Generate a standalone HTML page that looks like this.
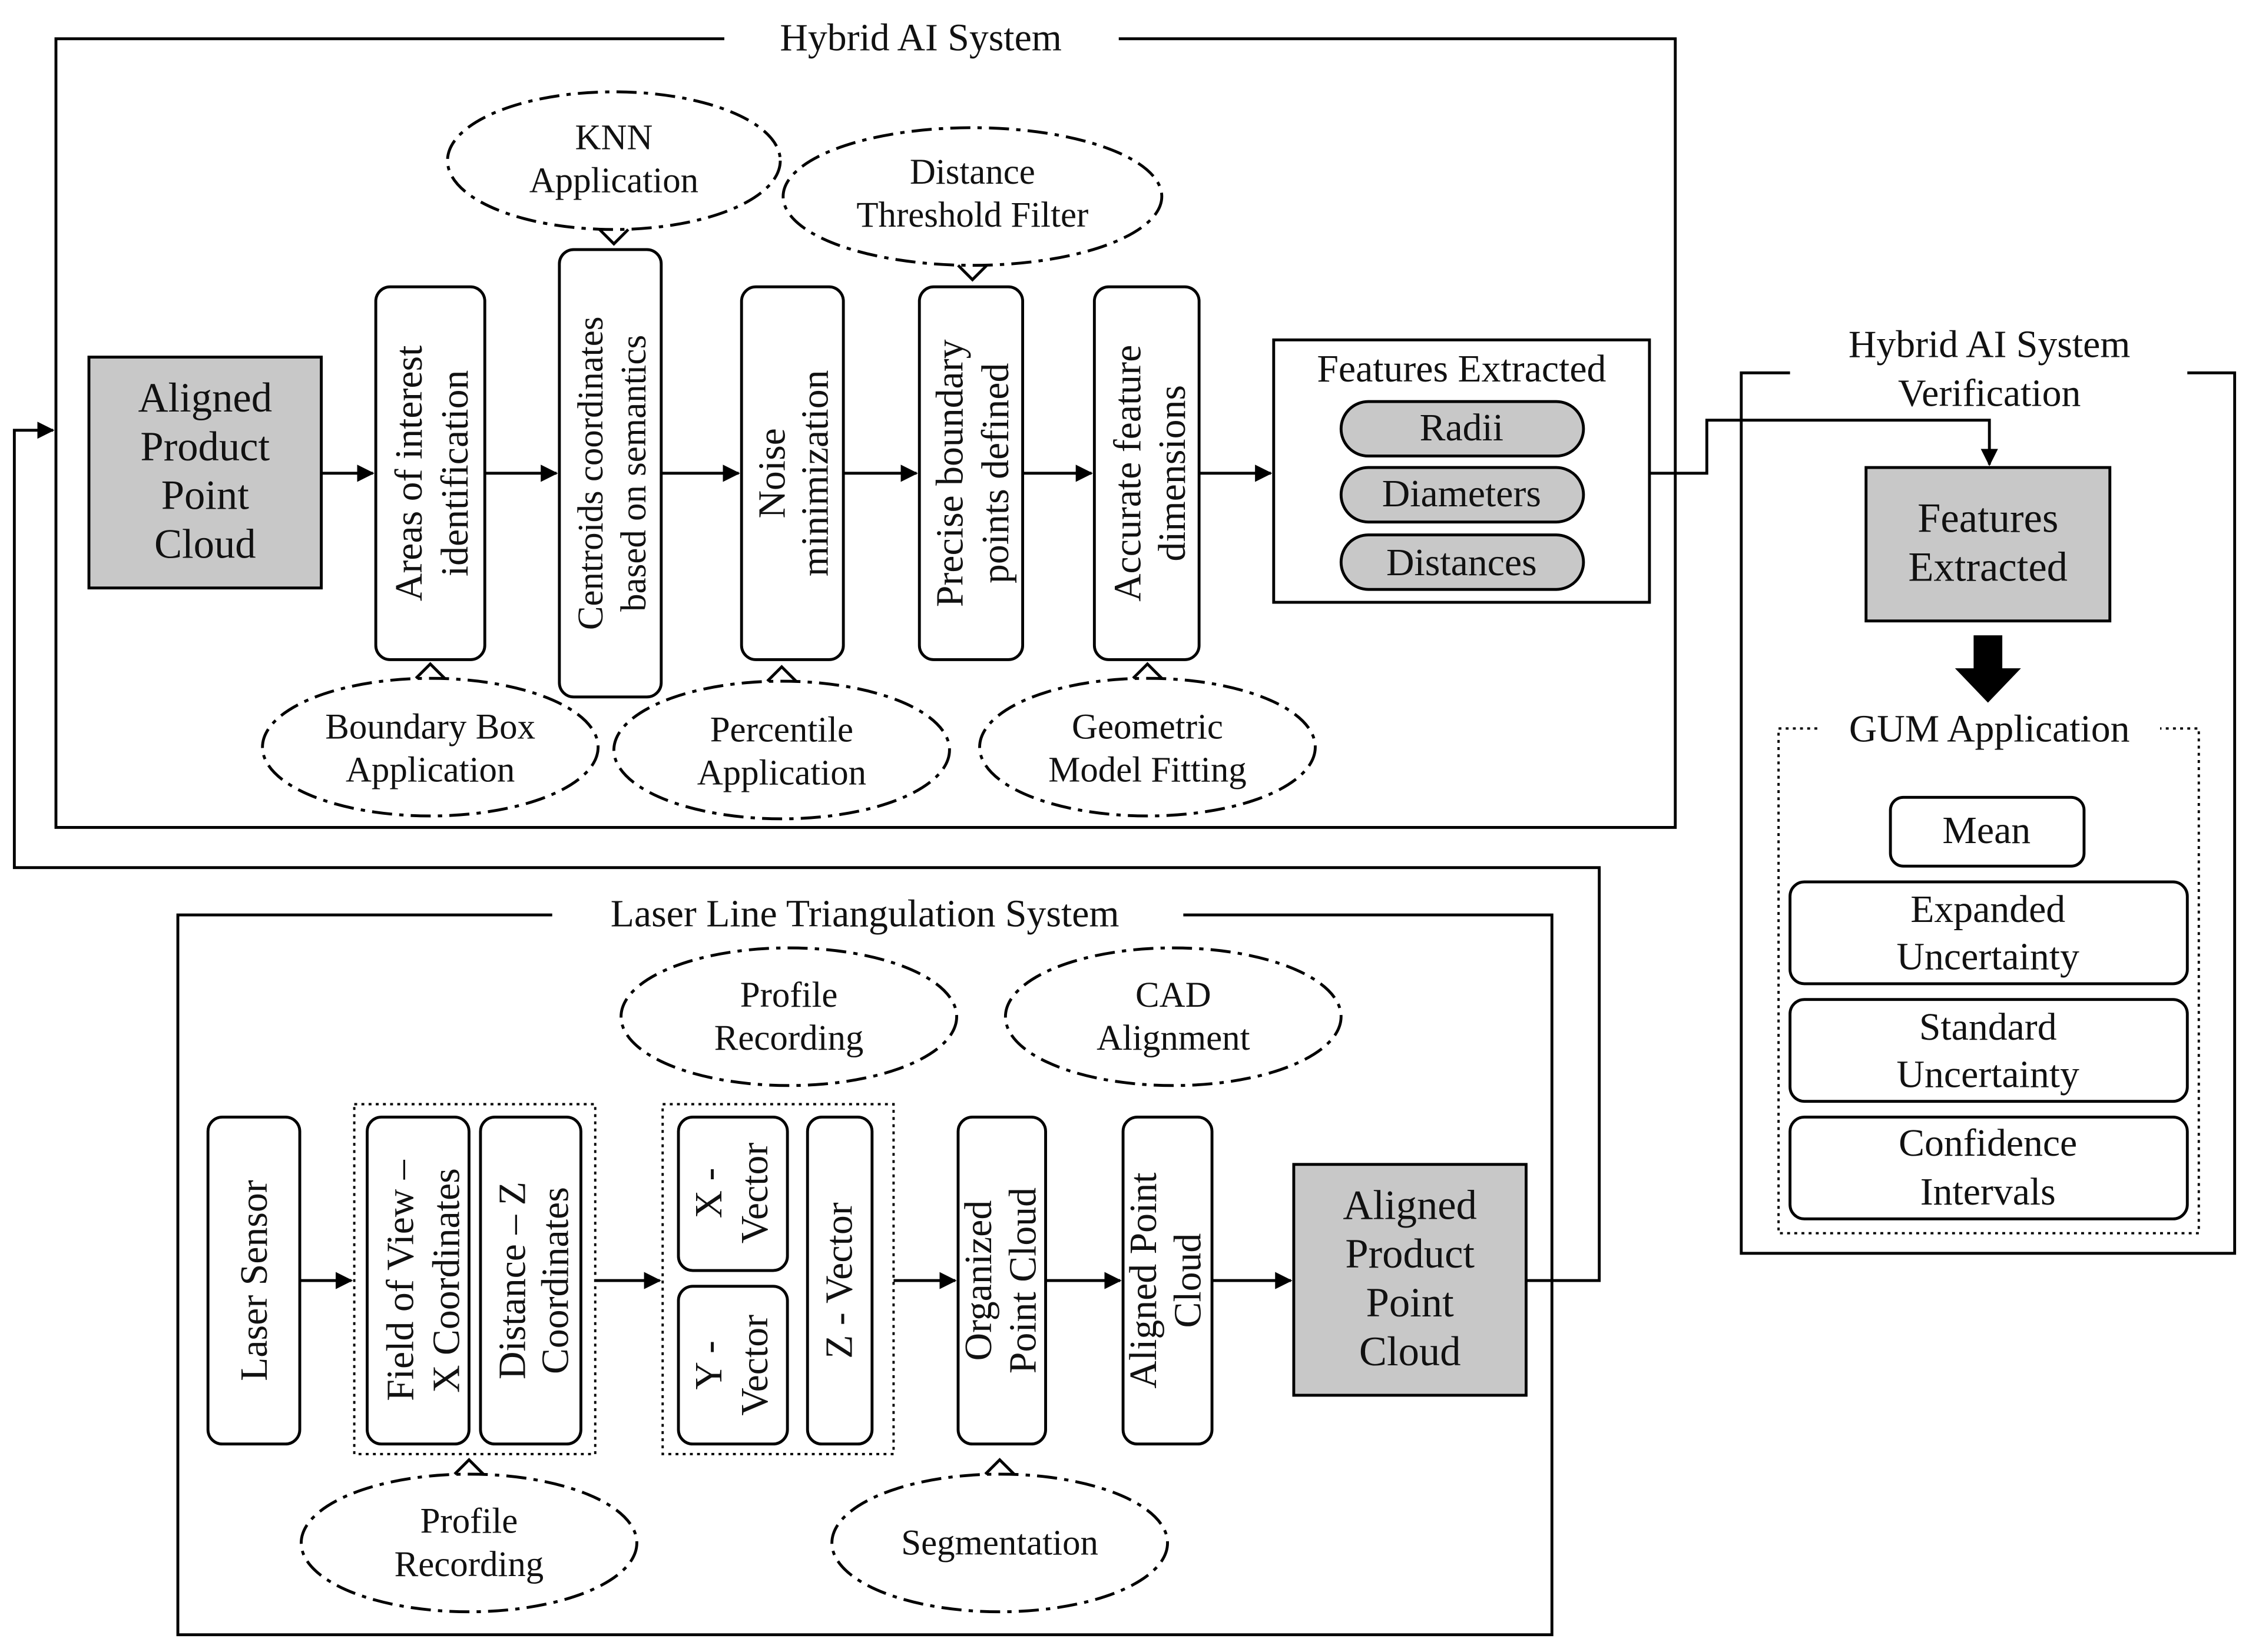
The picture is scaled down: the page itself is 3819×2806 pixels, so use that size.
<!DOCTYPE html>
<html><head><meta charset="utf-8"><style>
html,body{margin:0;padding:0;background:#fff}
svg{display:block}
text{font-family:"Liberation Serif",serif;fill:#111}
</style></head><body>
<svg width="3819" height="2806" viewBox="0 0 1568 1152" xmlns="http://www.w3.org/2000/svg">
<defs>
<marker id="ah" markerWidth="12" markerHeight="12" refX="11" refY="6" orient="auto" markerUnits="userSpaceOnUse">
<path d="M0,0 L12,6 L0,12 z" fill="#000"/></marker>
</defs>
<rect width="1568" height="1152" fill="#fff"/>
<g fill="none" stroke="#000" stroke-width="2">
<path d="M505,27 H39 V577 H1168 V27 H780"/>
<path d="M1064,893 H1115 V605 H10 V300 H37" marker-end="url(#ah)"/>
<path d="M224,330 H260" marker-end="url(#ah)"/>
<path d="M338,330 H388" marker-end="url(#ah)"/>
<path d="M461,330 H515" marker-end="url(#ah)"/>
<path d="M588,330 H639" marker-end="url(#ah)"/>
<path d="M713,330 H761" marker-end="url(#ah)"/>
<path d="M836,330 H886" marker-end="url(#ah)"/>
<path d="M1150,330 H1190 V293 H1387 V324" marker-end="url(#ah)"/>
<rect x="262" y="200" width="76" height="260" rx="10"/>
<rect x="390" y="174" width="71" height="312" rx="10"/>
<rect x="517" y="200" width="71" height="260" rx="10"/>
<rect x="641" y="200" width="72" height="260" rx="10"/>
<rect x="763" y="200" width="73" height="260" rx="10"/>
<rect x="888" y="237" width="262" height="183"/>
<rect x="935" y="280" width="169" height="38" rx="19" fill="#c8c8c8"/>
<rect x="935" y="326" width="169" height="38" rx="19" fill="#c8c8c8"/>
<rect x="935" y="373" width="169" height="38" rx="19" fill="#c8c8c8"/>
<rect x="62" y="249" width="162" height="161" fill="#c8c8c8"/>
<g stroke-dasharray="14,5,3,5">
<ellipse cx="428" cy="112" rx="116" ry="48"/>
<ellipse cx="678" cy="137" rx="132" ry="48"/>
<ellipse cx="300" cy="521" rx="117" ry="48"/>
<ellipse cx="545" cy="523" rx="117" ry="48"/>
<ellipse cx="800" cy="521" rx="117" ry="48"/>
<ellipse cx="550" cy="709" rx="117" ry="48"/>
<ellipse cx="818" cy="709" rx="117" ry="48"/>
<ellipse cx="327" cy="1076" rx="117" ry="48"/>
<ellipse cx="697" cy="1076" rx="117" ry="48"/>
</g>
<path d="M418,160 L428,170 L438,160"/>
<path d="M668,185 L678,195 L688,185"/>
<path d="M290,473 L300,463 L310,473"/>
<path d="M535,475 L545,465 L555,475"/>
<path d="M790,473 L800,463 L810,473"/>
<path d="M317,1028 L327,1018 L337,1028"/>
<path d="M687,1028 L697,1018 L707,1028"/>
<path d="M1248,260 H1214 V874 H1558 V260 H1525"/>
<rect x="1301" y="326" width="170" height="107" fill="#c8c8c8"/>
<rect x="1240" y="508" width="293" height="352" stroke-dasharray="2,3" stroke-width="1.6"/>
<rect x="1318" y="556" width="135" height="48" rx="9"/>
<rect x="1248" y="615" width="277" height="71" rx="10"/>
<rect x="1248" y="697" width="277" height="71" rx="10"/>
<rect x="1248" y="779" width="277" height="71" rx="10"/>
<path d="M385,638 H124 V1140 H1082 V638 H825"/>
<rect x="145" y="779" width="64" height="228" rx="10"/>
<rect x="247" y="770" width="168" height="244" stroke-dasharray="2,3" stroke-width="1.6"/>
<rect x="256" y="779" width="71" height="228" rx="10"/>
<rect x="335" y="779" width="70" height="228" rx="10"/>
<rect x="462" y="770" width="161" height="244" stroke-dasharray="2,3" stroke-width="1.6"/>
<rect x="473" y="779" width="76" height="107" rx="10"/>
<rect x="473" y="897" width="76" height="110" rx="10"/>
<rect x="563" y="779" width="45" height="228" rx="10"/>
<rect x="668" y="779" width="61" height="228" rx="10"/>
<rect x="783" y="779" width="62" height="228" rx="10"/>
<rect x="902" y="812" width="162" height="161" fill="#c8c8c8"/>
<path d="M209,893 H245" marker-end="url(#ah)"/>
<path d="M415,893 H460" marker-end="url(#ah)"/>
<path d="M623,893 H666" marker-end="url(#ah)"/>
<path d="M729,893 H781" marker-end="url(#ah)"/>
<path d="M845,893 H900" marker-end="url(#ah)"/>
</g>
<rect x="1268" y="494" width="238" height="30" fill="#fff"/>
<path d="M1376,443 H1396 V466 H1409 L1386,490 L1363,466 H1376 Z" fill="#000"/>
<g font-size="27" text-anchor="middle">
<text x="642" y="35">Hybrid AI System</text>
<text x="143" y="287" font-size="29">Aligned</text>
<text x="143" y="321" font-size="29">Product</text>
<text x="143" y="355" font-size="29">Point</text>
<text x="143" y="389" font-size="29">Cloud</text>
<text transform="translate(294,330) rotate(-90)">Areas of interest</text>
<text transform="translate(326,330) rotate(-90)">identification</text>
<text transform="translate(420,330) rotate(-90)" font-size="25">Centroids coordinates</text>
<text transform="translate(450,330) rotate(-90)" font-size="25">based on semantics</text>
<text transform="translate(547,330) rotate(-90)">Noise</text>
<text transform="translate(577,330) rotate(-90)">minimization</text>
<text transform="translate(671,330) rotate(-90)">Precise boundary</text>
<text transform="translate(703,330) rotate(-90)">points defined</text>
<text transform="translate(795,330) rotate(-90)">Accurate feature</text>
<text transform="translate(826,330) rotate(-90)">dimensions</text>
<text x="1019" y="266">Features Extracted</text>
<text x="1019" y="307">Radii</text>
<text x="1019" y="353">Diameters</text>
<text x="1019" y="401">Distances</text>
<text x="428" y="104" font-size="25">KNN</text>
<text x="428" y="134" font-size="25">Application</text>
<text x="678" y="128" font-size="25">Distance</text>
<text x="678" y="158" font-size="25">Threshold Filter</text>
<text x="300" y="515" font-size="25">Boundary Box</text>
<text x="300" y="545" font-size="25">Application</text>
<text x="545" y="517" font-size="25">Percentile</text>
<text x="545" y="547" font-size="25">Application</text>
<text x="800" y="515" font-size="25">Geometric</text>
<text x="800" y="545" font-size="25">Model Fitting</text>
<text x="1387" y="249">Hybrid AI System</text>
<text x="1387" y="283">Verification</text>
<text x="1386" y="371" font-size="29">Features</text>
<text x="1386" y="405" font-size="29">Extracted</text>
<text x="1387" y="517">GUM Application</text>
<text x="1385" y="588">Mean</text>
<text x="1386" y="643">Expanded</text>
<text x="1386" y="676">Uncertainty</text>
<text x="1386" y="725">Standard</text>
<text x="1386" y="758">Uncertainty</text>
<text x="1386" y="806">Confidence</text>
<text x="1386" y="840">Intervals</text>
<text x="603" y="646">Laser Line Triangulation System</text>
<text x="550" y="702" font-size="25">Profile</text>
<text x="550" y="732" font-size="25">Recording</text>
<text x="818" y="702" font-size="25">CAD</text>
<text x="818" y="732" font-size="25">Alignment</text>
<text x="327" y="1069" font-size="25">Profile</text>
<text x="327" y="1099" font-size="25">Recording</text>
<text x="697" y="1084" font-size="25">Segmentation</text>
<text transform="translate(186,893) rotate(-90)">Laser Sensor</text>
<text transform="translate(288,893) rotate(-90)">Field of View –</text>
<text transform="translate(320,893) rotate(-90)">X Coordinates</text>
<text transform="translate(366,893) rotate(-90)">Distance – Z</text>
<text transform="translate(396,893) rotate(-90)">Coordinates</text>
<text transform="translate(503,832) rotate(-90)">X -</text>
<text transform="translate(535,832) rotate(-90)">Vector</text>
<text transform="translate(503,952) rotate(-90)">Y -</text>
<text transform="translate(535,952) rotate(-90)">Vector</text>
<text transform="translate(594,893) rotate(-90)">Z - Vector</text>
<text transform="translate(691,893) rotate(-90)">Organized</text>
<text transform="translate(722,893) rotate(-90)">Point Cloud</text>
<text transform="translate(806,893) rotate(-90)">Aligned Point</text>
<text transform="translate(837,893) rotate(-90)">Cloud</text>
<text x="983" y="850" font-size="29">Aligned</text>
<text x="983" y="884" font-size="29">Product</text>
<text x="983" y="918" font-size="29">Point</text>
<text x="983" y="952" font-size="29">Cloud</text>
</g>
</svg>
</body></html>
